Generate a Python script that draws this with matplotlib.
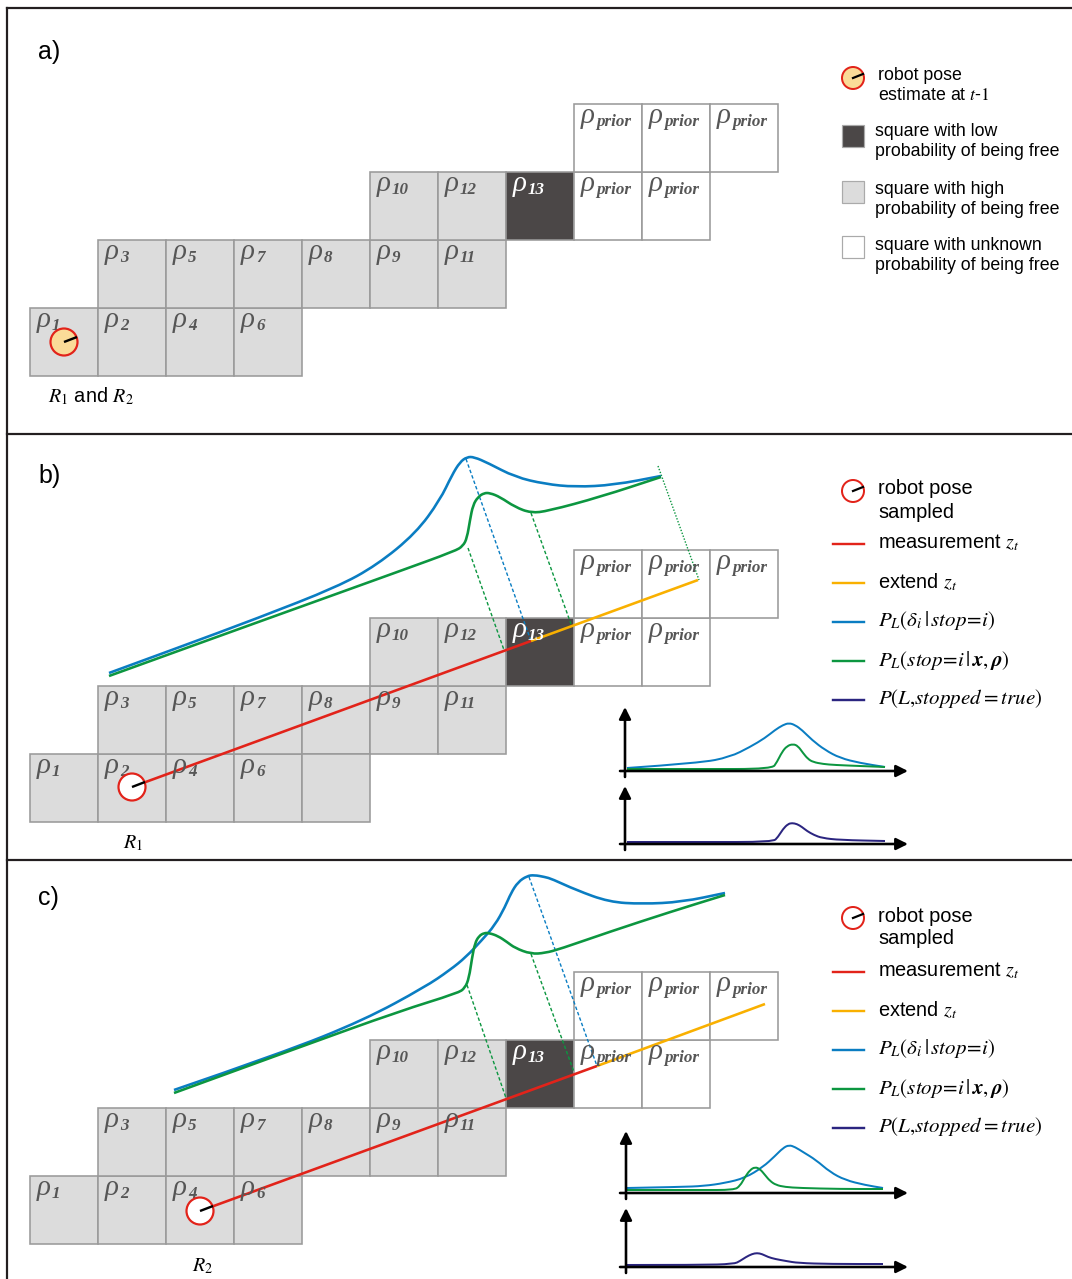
import matplotlib
matplotlib.use('Agg')
import matplotlib.pyplot as plt
from matplotlib.patches import Rectangle, Circle, PathPatch
from matplotlib.path import Path

plt.rcParams['font.family'] = ['Liberation Sans', 'DejaVu Sans']
plt.rcParams['mathtext.fontset'] = 'stix'

W, H = 1072, 1279

# ---------------- data ----------------
panel_labels = ['a)', 'b)', 'c)']

# grid cells: (column, row-from-bottom, subscript, kind)
cells_a = [(0, 0, '1', 'free'), (1, 0, '2', 'free'), (2, 0, '4', 'free'), (3, 0, '6', 'free'),
           (1, 1, '3', 'free'), (2, 1, '5', 'free'), (3, 1, '7', 'free'), (4, 1, '8', 'free'),
           (5, 1, '9', 'free'), (6, 1, '11', 'free'),
           (5, 2, '10', 'free'), (6, 2, '12', 'free'), (7, 2, '13', 'occ'),
           (8, 2, 'prior', 'prior'), (9, 2, 'prior', 'prior'),
           (8, 3, 'prior', 'prior'), (9, 3, 'prior', 'prior'), (10, 3, 'prior', 'prior')]
cells_b = cells_a + [(4, 0, '', 'free')]
cells_c = cells_a

# robot poses (pixel centres)
robot_x = [64, 132, 200]
robot_y = [342, 787, 1211]

# measurement z_t (start, end) and its extension end
meas_b_x = [132, 531]; meas_b_y = [787, 641]
ext_b_x = [531, 698];  ext_b_y = [641, 580]
meas_c_x = [200, 597]; meas_c_y = [1211, 1066]
ext_c_x = [597, 765];  ext_c_y = [1066, 1004]

# curves drawn over the measurement (panel b)
blue_b_x = [109, 180, 258, 337, 377, 416, 440, 452, 460, 467, 474, 488, 515, 545, 575, 614, 661]
blue_b_y = [673, 647, 618, 587, 565, 533, 500, 475, 462, 457, 457, 463, 477, 484, 487, 485, 476]
green_b_x = [109, 200, 300, 400, 455, 463, 467, 470, 473, 478, 484, 490, 500, 515, 531, 548, 600, 661]
green_b_y = [676, 643, 607, 571, 551, 546, 538, 520, 505, 497, 493, 493, 497, 507, 513, 511, 497, 477]

# curves drawn over the measurement (panel c)
blue_c_x = [174, 282, 364, 425, 450, 466, 482, 495, 505, 511, 518, 527, 534, 545, 552, 576, 609, 642, 682, 725]
blue_c_y = [1090, 1053, 1020, 987, 970, 957, 940, 925, 907, 893, 882, 876, 875, 877, 879, 890, 902, 904, 902, 893]
green_c_x = [174, 300, 400, 458, 465, 469, 472, 475, 479, 484, 489, 498, 507, 515, 531, 545, 560, 609, 670, 725]
green_c_y = [1093, 1047, 1011, 993, 988, 978, 958, 943, 936, 933, 933, 936, 942, 948, 954, 953, 949, 932, 912, 895]

# projection connectors: (x0, y0, x1, y1, colour, style)
conn_b = [(466, 459, 531, 641, 'blue', 'dash'), (468, 548, 504, 650, 'green', 'dash'),
          (531, 513, 571, 624, 'green', 'dash'), (658, 466, 699, 580, 'green', 'dot')]
conn_c = [(467, 985, 506, 1098, 'green', 'dash'), (529, 877, 597, 1066, 'blue', 'dash'),
          (531, 954, 574, 1072, 'green', 'dash')]

# small distribution plots, panel b
sb_blue_x = [627, 700, 730, 750, 765, 775, 783, 789, 795, 802, 812, 825, 840, 860, 885]
sb_blue_y = [768, 763, 757, 747, 738, 730, 725, 723, 725, 730, 740, 750, 758, 763, 767]
sb_green_x = [627, 700, 772, 777, 782, 787, 793, 798, 803, 808, 813, 823, 835, 860, 885]
sb_green_y = [769, 769, 769, 762, 752, 746, 744, 746, 753, 759, 762, 764, 765, 766, 767]
sb_purple_x = [627, 700, 773, 778, 783, 788, 792, 797, 802, 807, 814, 822, 840, 885]
sb_purple_y = [842, 842, 842, 837, 829, 824, 823, 824, 827, 831, 835, 838, 840, 841]

# small distribution plots, panel c
sc_blue_x = [627, 680, 704, 725, 745, 763, 775, 783, 789, 795, 803, 816, 830, 845, 865, 883]
sc_blue_y = [1188, 1187, 1186, 1183, 1178, 1167, 1156, 1148, 1145, 1147, 1152, 1160, 1172, 1180, 1185, 1188]
sc_green_x = [627, 700, 734, 740, 745, 750, 755, 760, 765, 770, 776, 785, 800, 840, 883]
sc_green_y = [1190, 1190, 1190, 1186, 1177, 1170, 1167, 1169, 1175, 1181, 1185, 1187, 1188, 1189, 1189]
sc_purple_x = [627, 700, 734, 740, 746, 752, 757, 762, 768, 775, 786, 798, 830, 883]
sc_purple_y = [1265, 1265, 1264, 1261, 1257, 1254, 1253, 1254, 1257, 1259, 1261, 1263, 1264, 1264]

# legend texts
legend_a = [('robot pose', 'estimate at $\\mathit{t}$-$\\mathit{1}$'),
            ('square with low', 'probability of being free'),
            ('square with high', 'probability of being free'),
            ('square with unknown', 'probability of being free')]
legend_bc = ['measurement $z_t$', 'extend $z_t$',
             r'$P_L(\delta_i\,|\,stop\!=\!i)$',
             r'$P_L(stop\!=\!i\,|\,\mathbfit{x},\mathbfit{\rho})$',
             r'$P(L{,}stopped=true)$']
robot_captions = [r'$R_\mathit{1}$ and $R_\mathit{2}$', r'$R_\mathit{1}$', r'$R_\mathit{2}$']

# ---------------- style ----------------
C_FREE, C_OCC, C_EDGE = '#dcdcdc', '#4b4747', '#9a9a9a'
C_RED, C_ORANGE = '#e2231a', '#f9b000'
C_BLUE, C_GREEN, C_PURPLE = '#0a7dc2', '#0c9640', '#2b2580'
C_FRAME = '#231f20'
COLS = {'blue': C_BLUE, 'green': C_GREEN}
PX = 0.72  # points per pixel at 100 dpi
CELL = 68
X0 = 30

fig = plt.figure(figsize=(W / 100, H / 100), dpi=100)
ax = fig.add_axes([0, 0, 1, 1])
ax.set_xlim(0, W)
ax.set_ylim(H, 0)
ax.axis('off')


def smooth(xs, ys, color, lw, z=5):
    pts = list(zip(xs, ys))
    verts = [pts[0]]
    codes = [Path.MOVETO]
    for i in range(1, len(pts) - 1):
        mid = ((pts[i][0] + pts[i + 1][0]) / 2, (pts[i][1] + pts[i + 1][1]) / 2)
        verts += [pts[i], mid]
        codes += [Path.CURVE3, Path.CURVE3]
    verts.append(pts[-1])
    codes.append(Path.LINETO)
    ax.add_patch(PathPatch(Path(verts, codes), fill=False, edgecolor=color, lw=lw,
                           capstyle='butt', joinstyle='round', zorder=z))


def draw_grid(cells, top0):
    for col, row, sub, kind in cells:
        x = X0 + col * CELL
        y = top0 - row * CELL
        fc = {'free': C_FREE, 'occ': C_OCC, 'prior': 'white'}[kind]
        ax.add_patch(Rectangle((x, y), CELL, CELL, facecolor=fc, edgecolor=C_EDGE,
                               lw=1.6 * PX, zorder=1))
        if sub == '':
            continue
        tc = 'white' if kind == 'occ' else '#565656'
        ax.text(x + 7, y + 19, '\u03c1', family='Liberation Serif', style='italic',
                fontsize=29 * PX, color=tc, zorder=6, va='baseline')
        ax.text(x + 22, y + 22.5, sub, family='Liberation Serif', style='italic',
                weight='bold', fontsize=17 * PX, color=tc, zorder=6, va='baseline')


def robot(x, y, filled):
    ax.add_patch(Circle((x, y), 13.5, facecolor='#fadb98' if filled else 'white',
                        edgecolor=C_RED, lw=2.2 * PX, zorder=7))
    ax.plot([x, x + 13], [y, y - 5], color='black', lw=2.4 * PX, zorder=8,
            solid_capstyle='butt')


# frame
ax.plot([7, W], [8, 8], color=C_FRAME, lw=2.2 * PX)
ax.plot([7, 7], [8, H], color=C_FRAME, lw=2.2 * PX)
for yy in [434, 860]:
    ax.plot([7, W], [yy, yy], color=C_FRAME, lw=2.2 * PX)

# panel letters
for lbl, yy in zip(panel_labels, [52, 476, 898]):
    ax.text(38, yy, lbl, fontsize=25 * PX, va='center', ha='left')

# grids
draw_grid(cells_a, 308)
draw_grid(cells_b, 754)
draw_grid(cells_c, 1176)

# measurements
ax.plot(meas_b_x, meas_b_y, color=C_RED, lw=2.6 * PX, zorder=4, solid_capstyle='butt')
ax.plot(ext_b_x, ext_b_y, color=C_ORANGE, lw=2.6 * PX, zorder=4, solid_capstyle='butt')
ax.plot(meas_c_x, meas_c_y, color=C_RED, lw=2.6 * PX, zorder=4, solid_capstyle='butt')
ax.plot(ext_c_x, ext_c_y, color=C_ORANGE, lw=2.6 * PX, zorder=4, solid_capstyle='butt')

# robots
robot(robot_x[0], robot_y[0], True)
robot(robot_x[1], robot_y[1], False)
robot(robot_x[2], robot_y[2], False)

# captions
for cap, cx, cy in zip(robot_captions, [48, 123, 192], [396, 843, 1266]):
    ax.text(cx, cy, cap, fontsize=20 * PX, va='center', ha='left')

# curves
smooth(blue_b_x, blue_b_y, C_BLUE, 2.6 * PX)
smooth(green_b_x, green_b_y, C_GREEN, 2.6 * PX)
smooth(blue_c_x, blue_c_y, C_BLUE, 2.6 * PX)
smooth(green_c_x, green_c_y, C_GREEN, 2.6 * PX)

for conns in (conn_b, conn_c):
    for x0, y0, x1, y1, c, st in conns:
        dashes = (2.5, 1.6) if st == 'dash' else (1, 1.2)
        ax.plot([x0, x1], [y0, y1], color=COLS[c], lw=1.4 * PX, dashes=dashes, zorder=3)

# small plots
def small_axes(x, base, top):
    ax.annotate('', xy=(908, base), xytext=(620, base),
                arrowprops=dict(arrowstyle='-|>,head_length=0.7,head_width=0.35',
                                lw=2.6 * PX, color='black', shrinkA=0, shrinkB=0),
                zorder=9)
    ax.annotate('', xy=(x, top), xytext=(x, base + 6),
                arrowprops=dict(arrowstyle='-|>,head_length=0.7,head_width=0.35',
                                lw=2.6 * PX, color='black', shrinkA=0, shrinkB=0),
                zorder=9)

small_axes(625, 771, 707)
small_axes(625, 844, 786)
small_axes(626, 1193, 1131)
small_axes(626, 1267, 1208)

smooth(sb_blue_x, sb_blue_y, C_BLUE, 2.0 * PX)
smooth(sb_green_x, sb_green_y, C_GREEN, 2.0 * PX)
smooth(sb_purple_x, sb_purple_y, C_PURPLE, 2.0 * PX)
smooth(sc_blue_x, sc_blue_y, C_BLUE, 2.0 * PX)
smooth(sc_green_x, sc_green_y, C_GREEN, 2.0 * PX)
smooth(sc_purple_x, sc_purple_y, C_PURPLE, 2.0 * PX)

# legend a
FS = 17.8 * PX
FS2 = 20 * PX
ax.add_patch(Circle((853, 78), 11, facecolor='#fadb98', edgecolor=C_RED, lw=2 * PX, zorder=7))
ax.plot([853, 863], [78, 74], color='black', lw=2.2 * PX, zorder=8)
sw_y = [None, 136, 192, 247]
sw_c = [None, C_OCC, C_FREE, 'white']
text_y = [(75, 95), (132, 152), (189, 209), (246, 265)]
for i, (l1, l2) in enumerate(legend_a):
    tx = 878 if i == 0 else 875
    ax.text(tx, text_y[i][0], l1, fontsize=FS, va='center')
    ax.text(tx, text_y[i][1], l2, fontsize=FS, va='center')
    if sw_y[i] is not None:
        ax.add_patch(Rectangle((842, sw_y[i] - 11), 22, 22, facecolor=sw_c[i],
                               edgecolor='#aaaaaa', lw=1.2 * PX, zorder=3))

# legends b, c
line_cols = [C_RED, C_ORANGE, C_BLUE, C_GREEN, C_PURPLE]
for cy0, ly0 in [(491, 544), (918, 972)]:
    ax.add_patch(Circle((853, cy0), 11, facecolor='white', edgecolor=C_RED, lw=2 * PX, zorder=7))
    ax.plot([853, 863], [cy0, cy0 - 4], color='black', lw=2.2 * PX, zorder=8)
    ax.text(878, cy0 - 2, 'robot pose', fontsize=FS2, va='center')
    ax.text(878, cy0 + 21, 'sampled', fontsize=FS2, va='center')
    for k, (txt, c) in enumerate(zip(legend_bc, line_cols)):
        yy = ly0 + k * 39
        ax.plot([833, 864], [yy, yy], color=c, lw=2.4 * PX)
        ax.text(878, yy - 1, txt, fontsize=FS2 if k < 2 else 21 * PX, va='center')

fig.savefig('out.png', dpi=100)
